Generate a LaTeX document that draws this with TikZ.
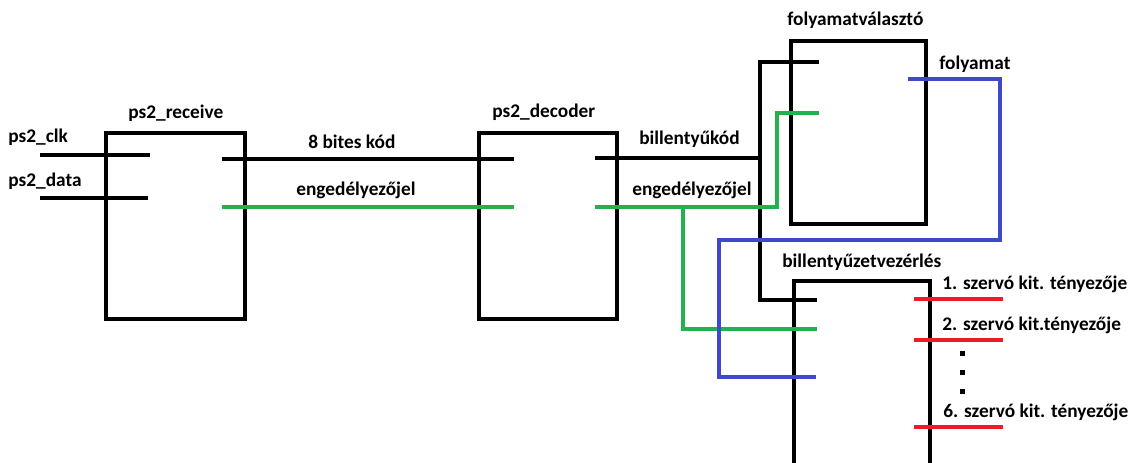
\documentclass[tikz,border=0pt]{standalone}
\usepackage{fontspec}
\setmainfont{Carlito}
\usetikzlibrary{positioning}
\definecolor{wiregreen}{HTML}{22B14C}
\definecolor{wireblue}{HTML}{3F48CC}
\definecolor{wirered}{HTML}{ED1C24}

\begin{document}
\begin{tikzpicture}[
    x=0.02cm, y=-0.02cm,
    every node/.style={font=\bfseries\fontsize{11}{13}\selectfont},
    block/.style={rectangle, draw=black, line width=2.3pt, inner sep=0pt, anchor=north west},
    wire/.style={line width=2.3pt},
    lbl/.style={anchor=base west, inner sep=0pt}
]
\useasboundingbox (0,0) rectangle (1133,463);
\clip (0,0) rectangle (1133,463);

% Blocks
\node[block, minimum width=2.78cm, minimum height=3.72cm] (rcv) at (104,131) {};
\node[block, minimum width=2.76cm, minimum height=3.72cm] (dec) at (477,131) {};
\node[block, minimum width=2.70cm, minimum height=3.66cm] (sel) at (789,39) {};
\node[block, minimum width=2.72cm, minimum height=4.2cm] (ctl) at (792,279) {};

% Block titles
\node[lbl] (rcvttl) at (128,118) {ps2\_receive};
\node[lbl] (decttl) at (492,117) {ps2\_decoder};
\node[lbl] (selttl) at (787,26) {folyamatválasztó};
\node[lbl] (ctlttl) at (782,267) {billentyűzetvezérlés};

% Pin ends
\coordinate (clkin) at (40,155);   \coordinate (clkpin) at (150,155);
\coordinate (datin) at (40,198);   \coordinate (datpin) at (148,198);
\coordinate (rcvcode) at (222,159); \coordinate (deccodein) at (514,159);
\coordinate (rcven) at (222,207);   \coordinate (decenin) at (514,207);
\coordinate (deccode) at (595,158); \coordinate (codebus) at (760,158);
\coordinate (decen) at (595,207);   \coordinate (enbus) at (683,207);
\coordinate (selcode) at (819,62);  \coordinate (selen) at (819,113);
\coordinate (selout) at (908,79);
\coordinate (ctlcode) at (817,300); \coordinate (ctlen) at (817,329);
\coordinate (ctlsel) at (816,377);

% Inputs
\draw[wire] (clkin) -- (clkpin);
\draw[wire] (datin) -- (datpin);
\node[lbl] (clklbl) at (8,142) {ps2\_clk};
\node[lbl] (datlbl) at (8,186) {ps2\_data};

% ps2_receive -> ps2_decoder
\draw[wire] (rcvcode) -- (deccodein);
\draw[wire, wiregreen] (rcven) -- (decenin);
\node[lbl] (codelbl) at (308,148) {8 bites kód};
\node[lbl] (enlbl) at (296,195) {engedélyezőjel};

% ps2_decoder -> folyamatválasztó / billentyűzetvezérlés
\draw[wire] (deccode) -- (codebus);
\draw[wire] (selcode) -| (ctlcode -| codebus) -- (ctlcode);
\draw[wire, wiregreen] (decen) -| (selen -| 777,0) -- (selen);
\draw[wire, wiregreen] (enbus) |- (ctlen);
\node[lbl] (keylbl) at (639,144) {billentyűkód};
\node[lbl] (en2lbl) at (632,195) {engedélyezőjel};

% folyamat feedback
\draw[wire, wireblue] (selout) -| (1000,240) -| (719,377) -- (ctlsel);
\node[lbl] (flowlbl) at (939,69) {folyamat};

% Servo outputs
\foreach \y/\n in {299/1, 340/2, 427/6}
  \draw[wire, wirered] (914,\y) -- (1003,\y);
\node[lbl] (out1) at (942,289) {1. szervó kit. tényezője};
\node[lbl] (out2) at (942,330) {2. szervó kit.tényezője};
\node[lbl] (out6) at (943,417) {6. szervó kit. tényezője};
\foreach \y in {351,370,389}
  \fill (960,\y) rectangle ++(5,5);

\end{tikzpicture}
\end{document}
